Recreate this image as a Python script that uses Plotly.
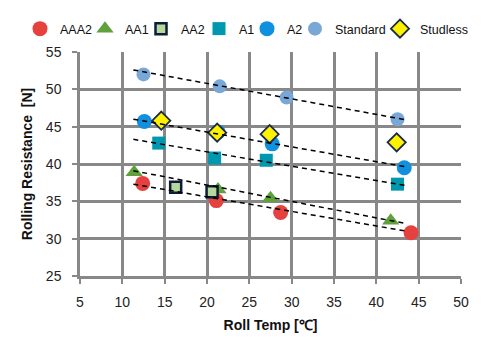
import plotly.graph_objects as go

# Data
aaa2_x = [12.4, 21.1, 28.7, 44.1]
aaa2_y = [37.4, 35.1, 33.5, 30.8]
aa1_x = [11.4, 21.3, 27.5, 41.7]
aa1_y = [38.9, 36.6, 35.4, 32.4]
aa2_x = [16.3, 20.6]
aa2_y = [36.9, 36.3]
a1_x = [14.3, 20.9, 27.0, 42.5]
a1_y = [42.8, 40.8, 40.5, 37.3]
a2_x = [12.6, 21.3, 27.7, 43.3]
a2_y = [45.7, 44.3, 42.7, 39.5]
std_x = [12.5, 21.5, 29.4, 42.5]
std_y = [52.0, 50.4, 48.9, 46.0]
stud_x = [14.6, 21.2, 27.4, 42.4]
stud_y = [45.8, 44.2, 44.0, 42.9]

# Trend line endpoints
trend_x = [11.3, 43.6]
trend_std = [52.6, 45.9]
trend_a2 = [46.0, 39.6]
trend_a1 = [43.3, 37.1]
trend_aa1 = [39.1, 32.0]
trend_aaa2 = [37.3, 31.0]

x_ticks = [5, 10, 15, 20, 25, 30, 35, 40, 45, 50]
y_ticks = [25, 30, 35, 40, 45, 50, 55]

fig = go.Figure()

def add(name, x, y, symbol, color, size, lw, line_color=None, line_width=0):
    fig.add_trace(go.Scatter(
        x=x, y=y, mode="markers", name=name, legendwidth=lw,
        marker=dict(symbol=symbol, color=color, size=size,
                    line=dict(color=line_color or color, width=line_width)),
    ))

add("AAA2", aaa2_x, aaa2_y, "circle", "#E5413F", 15, 20)
add("AA1", aa1_x, aa1_y, "triangle-up", "#5FA13B", 15, 11)
add("AA2", aa2_x, aa2_y, "square", "#B5D99C", 11, 13, "#0E1C38", 2.5)
add("A1", a1_x, a1_y, "square", "#0098AF", 13, 3)
add("A2", a2_x, a2_y, "circle", "#1090DE", 15, 3)
add("Standard", std_x, std_y, "circle", "#7AA8D6", 14, 40)
add("Studless", stud_x, stud_y, "diamond", "#FFF200", 14, 50, "#1C2B4A", 1.8)

for ty in [trend_std, trend_a2, trend_a1, trend_aa1, trend_aaa2]:
    fig.add_trace(go.Scatter(
        x=trend_x, y=ty, mode="lines", showlegend=False, hoverinfo="skip",
        line=dict(color="black", width=1.5, dash="5px,4px"),
    ))

axis_font = dict(family="Liberation Sans, Arial, sans-serif", size=14, color="#222222")

fig.update_layout(
    width=499, height=351,
    margin=dict(l=80, r=38, t=52, b=75, autoexpand=False),
    paper_bgcolor="white", plot_bgcolor="white",
    font=axis_font,
    showlegend=True,
    legend=dict(orientation="h", x=(20 - 80) / 381, xanchor="left", xref="paper",
                y=1 + (52 - 29) / 224, yanchor="middle", yref="paper",
                font=dict(size=12.5, color="#111111"),
                itemwidth=30, tracegroupgap=0, bgcolor="rgba(0,0,0,0)"),
    xaxis=dict(range=[5, 50], tickvals=x_ticks, showgrid=True, gridcolor="#888888",
               gridwidth=2.5, showline=True, linecolor="#888888", linewidth=2.5,
               ticks="outside", ticklen=5, tickcolor="#888888", tickwidth=2,
               ticklabelstandoff=6, zeroline=False, mirror=False,
               title=dict(text="<b>Roll Temp [℃]</b>", font=dict(size=14, color="#111111"), standoff=12)),
    yaxis=dict(range=[25, 55], tickvals=y_ticks, showgrid=True, gridcolor="#888888",
               gridwidth=2.5, showline=True, linecolor="#888888", linewidth=2.5,
               ticks="outside", ticklen=5, tickcolor="#888888", tickwidth=2,
               ticklabelstandoff=8, zeroline=False,
               title=dict(text="<b>Rolling Resistance  [N]</b>", font=dict(size=14, color="#111111"), standoff=10)),
)

fig.write_html("out.html")
